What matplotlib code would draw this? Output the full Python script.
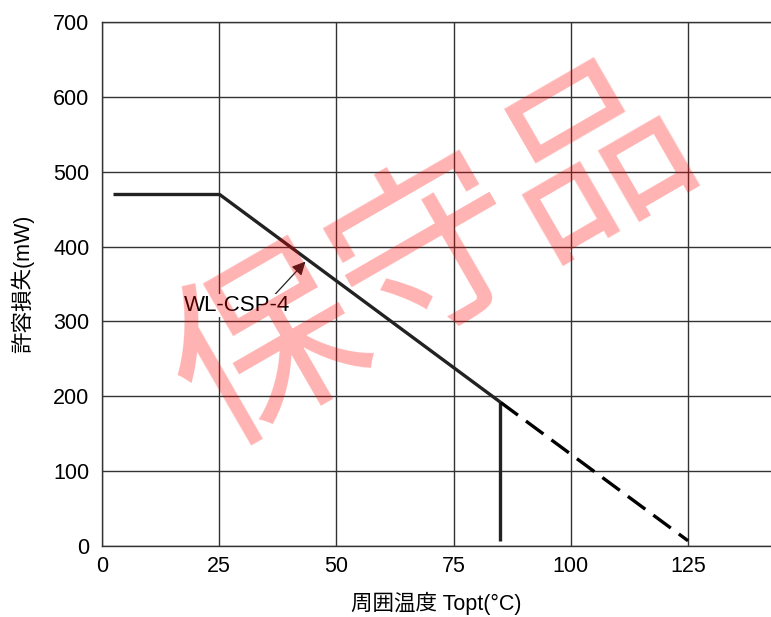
import matplotlib
matplotlib.use("Agg")
import matplotlib.pyplot as plt

plt.rcParams['font.family'] = ['Liberation Sans', 'Noto Sans CJK JP', 'DejaVu Sans']

# derating curve of WL-CSP-4
temp_flat = [2.3, 25]
pd_flat = [470, 470]
temp_slope = [25, 85]
pd_slope = [470, 192]
temp_drop = [85, 85]
pd_drop = [192, 7]
temp_ext = [85, 125]
pd_ext = [192, 7]

xticks = [0, 25, 50, 75, 100, 125]
yticks = [0, 100, 200, 300, 400, 500, 600, 700]

fig = plt.figure(figsize=(7.71, 6.17), dpi=100)
ax = fig.add_axes([102/771, 1-546/617, 1-102/771, (546-22)/617])

ax.plot(temp_flat, pd_flat, color='#222222', lw=2.4, solid_capstyle='butt')
ax.plot(temp_slope, pd_slope, color='#222222', lw=2.4, solid_capstyle='butt')
ax.plot(temp_drop, pd_drop, color='#222222', lw=2.4, solid_capstyle='butt')
ax.plot(temp_ext, pd_ext, color='black', lw=2.4, dashes=(6.5, 3.0))

ax.annotate('WL-CSP-4', xy=(43.4, 380), xytext=(17.5, 321),
            fontsize=16, va='center', ha='left',
            bbox=dict(boxstyle='square,pad=0.05', fc='white', ec='none'),
            arrowprops=dict(arrowstyle='-|>', color='#222222', lw=0.9,
                            mutation_scale=20, shrinkA=0, shrinkB=0,
                            relpos=(0.84, 0.95)))

ax.set_xlim(0, 142.7)
ax.set_ylim(0, 700)
ax.set_xticks(xticks)
ax.set_yticks(yticks)
ax.grid(True, color='#333333', lw=1.0)
ax.set_axisbelow(True)
ax.tick_params(length=0, labelsize=15.5, pad=9)
ax.tick_params(axis='x', pad=7)
for s in ['left', 'bottom', 'top']:
    ax.spines[s].set_color('#333333')
    ax.spines[s].set_linewidth(1.0)
ax.spines['right'].set_visible(False)

ax.set_xlabel('周囲温度 Topt(°C)', fontsize=15.5, labelpad=11)
ax.set_ylabel('許容損失(mW)', fontsize=15.5, labelpad=14)

fig.text(434/771, 1-259/617, '保守品', fontsize=136, color='red', alpha=0.3,
         rotation=30, ha='center', va='center', rotation_mode='anchor',
         family=['Noto Sans CJK JP'])

fig.savefig('out.png', dpi=100)
